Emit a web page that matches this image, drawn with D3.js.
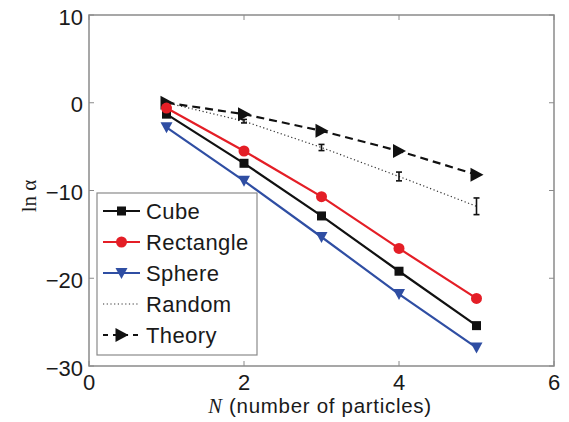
<!DOCTYPE html>
<html lang="en">
<head>
  <meta charset="UTF-8">
  <title>ln alpha vs N</title>
  <script src="https://d3js.org/d3.v7.min.js"></script>
  <style>
    body { margin: 0; background: #fff; }
    text { font-family: "Liberation Sans", Arial, sans-serif; fill: #1a1a1a; }
    .serif { font-family: "Liberation Serif", "Times New Roman", serif; }
  </style>
</head>
<body>
<svg width="569" height="422"></svg>
<script>
  // data
  const nVals = [1, 2, 3, 4, 5];
  const cube = [-1.3, -6.9, -12.9, -19.2, -25.4];
  const rectangle = [-0.6, -5.5, -10.7, -16.6, -22.3];
  const sphere = [-2.8, -8.9, -15.3, -21.8, -27.9];
  const random = [0, -2.1, -5.1, -8.4, -11.8];
  const randomErr = [0, 0.2, 0.35, 0.5, 0.95];
  const theory = [0, -1.3, -3.2, -5.5, -8.2];
  const xTicks = [0, 2, 4, 6];
  const yTicks = [10, 0, -10, -20, -30];

  const svg = d3.select("svg");
  const pLeft = 89, pRight = 554, pTop = 15, pBottom = 366;

  const x = d3.scaleLinear().domain([0, 6]).range([pLeft, pRight]);
  const y = d3.scaleLinear().domain([-30, 10]).range([pBottom, pTop]);

  // frame
  const axisColor = "#8a8a8a";
  svg.append("rect")
    .attr("x", pLeft).attr("y", pTop)
    .attr("width", pRight - pLeft).attr("height", pBottom - pTop)
    .attr("fill", "none").attr("stroke", axisColor).attr("stroke-width", 1.5);

  const tickLen = 5;
  xTicks.forEach(t => {
    svg.append("line").attr("x1", x(t)).attr("x2", x(t))
      .attr("y1", pBottom).attr("y2", pBottom - tickLen).attr("stroke", axisColor);
    svg.append("line").attr("x1", x(t)).attr("x2", x(t))
      .attr("y1", pTop).attr("y2", pTop + tickLen).attr("stroke", axisColor);
    svg.append("text").attr("x", x(t)).attr("y", pBottom + 23.5)
      .attr("text-anchor", "middle").attr("font-size", 22).text(t);
  });
  yTicks.forEach(t => {
    svg.append("line").attr("x1", pLeft).attr("x2", pLeft + tickLen)
      .attr("y1", y(t)).attr("y2", y(t)).attr("stroke", axisColor);
    svg.append("line").attr("x1", pRight).attr("x2", pRight - tickLen)
      .attr("y1", y(t)).attr("y2", y(t)).attr("stroke", axisColor);
    svg.append("text").attr("x", pLeft - 6).attr("y", y(t) + 9.5)
      .attr("text-anchor", "end").attr("font-size", 22)
      .text(t < 0 ? "\u2212" + Math.abs(t) : t);
  });

  // axis labels
  const xl = svg.append("text").attr("x", 320).attr("y", 413)
    .attr("text-anchor", "middle").attr("font-size", 20.5).attr("letter-spacing", 0.7);
  xl.append("tspan").attr("class", "serif").attr("font-style", "italic").text("N");
  xl.append("tspan").text(" (number of particles)");

  svg.append("text").attr("class", "serif")
    .attr("transform", "translate(36,196) rotate(-90)")
    .attr("text-anchor", "middle").attr("font-size", 21).text("ln \u03b1");

  const line = d3.line().x(d => x(d[0])).y(d => y(d[1]));
  const zip = vals => nVals.map((n, i) => [n, vals[i]]);

  const red = "#e41e26", blue = "#2f4ea3", black = "#111";

  // random: dotted with error bars
  svg.append("path").datum(zip(random)).attr("d", line)
    .attr("fill", "none").attr("stroke", "#333").attr("stroke-width", 1.2)
    .attr("stroke-dasharray", "1.2,2.5");
  nVals.forEach((n, i) => {
    if (randomErr[i] <= 0) return;
    const g = svg.append("g").attr("stroke", black).attr("stroke-width", 1.6);
    const y0 = y(random[i] + randomErr[i]), y1 = y(random[i] - randomErr[i]);
    g.append("line").attr("x1", x(n)).attr("x2", x(n)).attr("y1", y0).attr("y2", y1);
    g.append("line").attr("x1", x(n) - 3).attr("x2", x(n) + 3).attr("y1", y0).attr("y2", y0);
    g.append("line").attr("x1", x(n) - 3).attr("x2", x(n) + 3).attr("y1", y1).attr("y2", y1);
  });

  // theory: dashed with right triangles
  svg.append("path").datum(zip(theory)).attr("d", line)
    .attr("fill", "none").attr("stroke", black).attr("stroke-width", 2.2)
    .attr("stroke-dasharray", "8,5");
  const triRight = "M-6,-7L7,0L-6,7Z";
  svg.selectAll(".theory").data(zip(theory)).enter().append("path")
    .attr("d", triRight).attr("fill", black)
    .attr("transform", d => `translate(${x(d[0])},${y(d[1])})`);

  // solid series
  const series = [
    { vals: sphere, color: blue, shape: "tri" },
    { vals: cube, color: black, shape: "sq" },
    { vals: rectangle, color: red, shape: "circ" }
  ];
  function marker(g, shape, color) {
    if (shape === "sq") g.append("rect").attr("x", -4.5).attr("y", -4.5).attr("width", 9).attr("height", 9).attr("fill", color);
    else if (shape === "circ") g.append("circle").attr("r", 5.5).attr("fill", color);
    else g.append("path").attr("d", "M-6,-5L6,-5L0,6Z").attr("fill", color);
  }
  series.forEach(s => {
    svg.append("path").datum(zip(s.vals)).attr("d", line)
      .attr("fill", "none").attr("stroke", s.color).attr("stroke-width", 2.2);
    zip(s.vals).forEach(d => {
      const g = svg.append("g").attr("transform", `translate(${x(d[0])},${y(d[1])})`);
      marker(g, s.shape, s.color);
    });
  });

  // legend
  const lg = svg.append("g");
  lg.append("rect").attr("x", 97).attr("y", 193).attr("width", 160).attr("height", 162)
    .attr("fill", "#fff").attr("stroke", axisColor).attr("stroke-width", 1.2);
  const legendItems = [
    { name: "Cube", color: black, shape: "sq", dash: null },
    { name: "Rectangle", color: red, shape: "circ", dash: null },
    { name: "Sphere", color: blue, shape: "tri", dash: null },
    { name: "Random", color: "#333", shape: null, dash: "1.2,2.5" },
    { name: "Theory", color: black, shape: "theory", dash: "5,5" }
  ];
  legendItems.forEach((it, i) => {
    const ly = 211 + i * 31;
    const ln = lg.append("line").attr("x1", 103).attr("x2", 140).attr("y1", ly).attr("y2", ly)
      .attr("stroke", it.color).attr("stroke-width", it.shape ? 2.2 : 1.2);
    if (it.dash) ln.attr("stroke-dasharray", it.dash);
    if (it.shape === "theory") {
      lg.append("path").attr("d", triRight).attr("fill", black)
        .attr("transform", `translate(121.5,${ly})`);
    } else if (it.shape) {
      const g = lg.append("g").attr("transform", `translate(121.5,${ly})`);
      marker(g, it.shape, it.color);
    }
    lg.append("text").attr("x", 146).attr("y", ly + 8).attr("font-size", 22)
      .attr("letter-spacing", 0.4).text(it.name);
  });
</script>
</body>
</html>
